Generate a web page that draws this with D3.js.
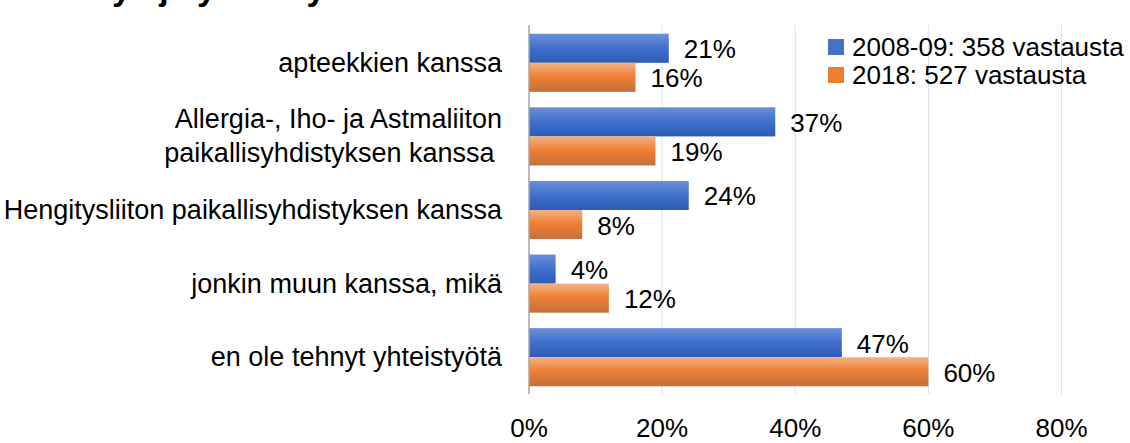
<!DOCTYPE html>
<html>
<head>
<meta charset="utf-8">
<script src="https://cdn.jsdelivr.net/npm/d3@7"></script>
<style>
  body { margin: 0; background: #fff; }
  svg { font-family: "Liberation Sans", Arial, sans-serif; }
  .lbl { white-space: pre; }
</style>
</head>
<body>
<div id="chart"></div>
<script>
var categories = ["apteekkien kanssa", "Allergia-, Iho- ja Astmaliiton paikallisyhdistyksen kanssa",
    "Hengitysliiton paikallisyhdistyksen kanssa", "jonkin muun kanssa, mikä", "en ole tehnyt yhteistyötä"];
var categoryLines = [["apteekkien kanssa"], ["Allergia-, Iho- ja Astmaliiton", "paikallisyhdistyksen kanssa "],
    ["Hengitysliiton paikallisyhdistyksen kanssa"], ["jonkin muun kanssa, mikä"], ["en ole tehnyt yhteistyötä"]];
var seriesNames = ["2008-09: 358 vastausta", "2018: 527 vastausta"];
var values2008 = [21, 37, 24, 4, 47];
var values2018 = [16, 19, 8, 12, 60];
var xTicks = [0, 20, 40, 60, 80];

var width = 1130, height = 443;

var svg = d3.select("#chart").append("svg")
    .attr("width", width)
    .attr("height", height);

var defs = svg.append("defs");
var gradients = [
    { id: "gBlue", stops: ["#6b90d9", "#3f6fcc", "#2d5cb6"] },
    { id: "gOrange", stops: ["#f4b184", "#ed7d31", "#c3703d"] }
];
gradients.forEach(function (g) {
    var lg = defs.append("linearGradient").attr("id", g.id)
        .attr("x1", 0).attr("y1", 0).attr("x2", 0).attr("y2", 1);
    lg.append("stop").attr("offset", "0%").attr("stop-color", g.stops[0]);
    lg.append("stop").attr("offset", "50%").attr("stop-color", g.stops[1]);
    lg.append("stop").attr("offset", "100%").attr("stop-color", g.stops[2]);
});
var fills = ["url(#gBlue)", "url(#gOrange)"];
var legendColors = ["#4472c4", "#ed7d31"];

// title, cut off at the top edge like in the original (only descenders show)
svg.append("text")
    .attr("x", 8).attr("y", 0)
    .style("font-size", "34px").style("font-weight", "bold")
    .text("Yhdistys ja yhteistyö");

var x = d3.scaleLinear().domain([0, 80]).range([529, 1061.5]);
var y = d3.scaleBand().domain(categories).range([26, 394])
    .paddingInner(0.21).paddingOuter(0.105);
var sub = d3.scaleBand().domain([0, 1]).range([0, y.bandwidth()]);

// gridlines
svg.selectAll(".grid").data(xTicks.slice(1)).enter().append("line")
    .attr("x1", function (d) { return x(d); })
    .attr("x2", function (d) { return x(d); })
    .attr("y1", 25).attr("y2", 394)
    .attr("stroke", "#d9e2f0").attr("stroke-width", 1);

// tick labels
svg.selectAll(".tick").data(xTicks).enter().append("text")
    .attr("x", function (d) { return x(d); })
    .attr("y", 437)
    .attr("text-anchor", "middle")
    .style("font-size", "26px")
    .text(function (d) { return d + "%"; });

var rows = categories.map(function (c, i) {
    return { cat: c, vals: [values2008[i], values2018[i]] };
});

var groups = svg.selectAll(".grp").data(rows).enter().append("g")
    .attr("transform", function (d) { return "translate(0," + y(d.cat) + ")"; });

groups.selectAll("rect").data(function (d) { return d.vals; }).enter().append("rect")
    .attr("x", x(0))
    .attr("y", function (d, i) { return sub(i); })
    .attr("width", function (d) { return x(d) - x(0); })
    .attr("height", sub.bandwidth())
    .attr("fill", function (d, i) { return fills[i]; });

groups.selectAll(".val").data(function (d) { return d.vals; }).enter().append("text")
    .attr("x", function (d) { return x(d) + 15; })
    .attr("y", function (d, i) { return sub(i) + sub.bandwidth() / 2 + 10; })
    .style("font-size", "26px")
    .text(function (d) { return d + "%"; });

// axis line
svg.append("line")
    .attr("x1", x(0)).attr("x2", x(0))
    .attr("y1", 25).attr("y2", 394)
    .attr("stroke", "#a6a6a6").attr("stroke-width", 1.5);

// category labels
groups.each(function (d, i) {
    var lines = categoryLines[i];
    var cy = y.bandwidth() / 2;
    var lh = 34;
    var t = d3.select(this).append("text")
        .attr("class", "lbl")
        .attr("text-anchor", "end")
        .style("font-size", "27px");
    lines.forEach(function (ln, j) {
        t.append("tspan")
            .attr("x", 502)
            .attr("y", cy + 9 + (j - (lines.length - 1) / 2) * lh)
            .text(ln);
    });
});

// legend
var legend = svg.selectAll(".leg").data(seriesNames).enter().append("g")
    .attr("transform", function (d, i) { return "translate(828," + (39 + i * 28) + ")"; });
legend.append("rect")
    .attr("width", 16).attr("height", 16)
    .attr("fill", function (d, i) { return legendColors[i]; });
legend.append("text")
    .attr("x", 24).attr("y", 17)
    .style("font-size", "26px")
    .text(function (d) { return d; });
</script>
</body>
</html>
